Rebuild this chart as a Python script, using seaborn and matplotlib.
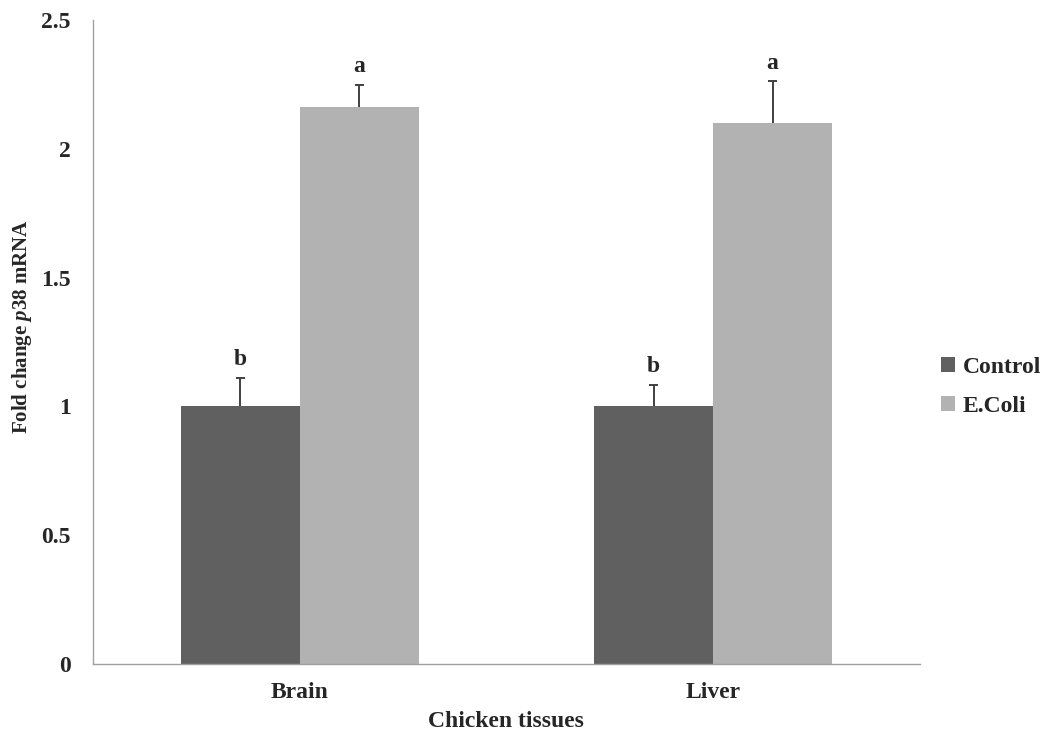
import numpy as np
import pandas as pd
import matplotlib
matplotlib.use("Agg")
import matplotlib.pyplot as plt
import seaborn as sns

# chart values
tissues = ["Brain", "Liver"]
groups = ["Control", "E.Coli"]
control_mean = [1.0, 1.0]
ecoli_mean = [2.163, 2.10]
control_err = [0.112, 0.084]
ecoli_err = [0.085, 0.162]
control_letters = ["b", "b"]
ecoli_letters = ["a", "a"]
yticks = [0, 0.5, 1, 1.5, 2, 2.5]

df = pd.DataFrame({
    "tissue": tissues * 2,
    "group": [groups[0]] * 2 + [groups[1]] * 2,
    "fold": control_mean + ecoli_mean,
    "err": control_err + ecoli_err,
    "letter": control_letters + ecoli_letters,
})

sns.set_style("white")
plt.rcParams["font.family"] = ["Liberation Serif", "DejaVu Serif"]
plt.rcParams["font.weight"] = "bold"
plt.rcParams["mathtext.fontset"] = "custom"
plt.rcParams["mathtext.it"] = "Liberation Serif:italic:bold"
plt.rcParams["mathtext.rm"] = "Liberation Serif:bold"

fs = 17
fig = plt.figure(figsize=(10.55, 7.34), dpi=100)
ax = fig.add_axes([0.088, 0.0954, 0.784, 0.8774])

palette = {"Control": "#606060", "E.Coli": "#b2b2b2"}
sns.barplot(data=df, x="tissue", y="fold", hue="group", order=tissues,
            hue_order=groups, palette=palette, errorbar=None, width=0.575,
            saturation=1, linewidth=0, ax=ax)

# upper-only error bars and letters, placed on the seaborn bars
cap = 0.011
for cont, g in zip(ax.containers, groups):
    sub = df[df["group"] == g].set_index("tissue").loc[tissues]
    xs = np.array([p.get_x() + p.get_width() / 2 for p in cont.patches])
    tops = sub["fold"].values + sub["err"].values
    ax.vlines(xs, sub["fold"].values, tops, color="#404040", lw=1.4)
    ax.hlines(tops, xs - cap, xs + cap, color="#404040", lw=1.4)
    for x, top, lab in zip(xs, tops, sub["letter"]):
        ax.text(x, top + 0.03, lab, ha="center", va="bottom",
                fontsize=fs, fontweight="bold")

ax.set_ylim(0, 2.5)
ax.set_xlim(-0.5, 1.5)
ax.set_yticks(yticks)
ax.set_yticklabels([f"{v:g}" for v in yticks], fontsize=fs, fontweight="bold")
ax.set_xticks([-0.5, 0.5, 1.5], minor=True)
ax.tick_params(axis="x", which="major", length=0, labelsize=fs, pad=13)
ax.tick_params(axis="x", which="minor", length=6, color="#a0a0a0", width=1)
ax.tick_params(axis="y", length=6, color="#a0a0a0", width=1, direction="out", pad=10)
for lab in ax.get_xticklabels():
    lab.set_fontweight("bold")

for side in ["top", "right"]:
    ax.spines[side].set_visible(False)
for side in ["left", "bottom"]:
    ax.spines[side].set_color("#a0a0a0")
    ax.spines[side].set_linewidth(1)

ax.set_xlabel("Chicken tissues", fontsize=fs, fontweight="bold", labelpad=6)
ax.set_ylabel(r"Fold change $\mathit{p38}$ mRNA", fontsize=15,
              fontweight="bold", labelpad=5)
ax.yaxis.set_label_coords(-0.071, 0.523)

ax.legend(title=None, frameon=False, loc="center left",
          bbox_to_anchor=(1.0, 0.43), handlelength=0.6,
          handleheight=0.6, handletextpad=0.3, labelspacing=0.75,
          prop={"weight": "bold", "size": fs})

fig.savefig("out.png", dpi=100)
